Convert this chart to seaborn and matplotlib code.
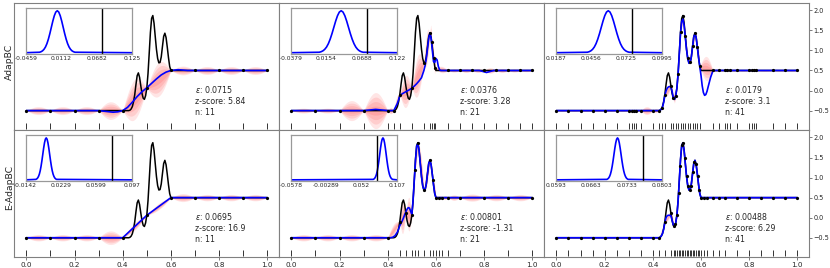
import numpy as np
import matplotlib
matplotlib.use("Agg")
import matplotlib.pyplot as plt
import seaborn as sns

# ---- true function (black line) ----
TRUE_X = [0.0, 0.425, 0.43, 0.435, 0.44, 0.445, 0.45, 0.455, 0.46, 0.465, 0.47, 0.475,
          0.48, 0.485, 0.49, 0.495, 0.5, 0.505, 0.51, 0.515, 0.52, 0.525, 0.53, 0.535,
          0.54, 0.545, 0.55, 0.555, 0.56, 0.565, 0.57, 0.575, 0.58, 0.585, 0.59, 0.595,
          0.6, 1.0]
TRUE_Y = [-0.5, -0.5, -0.49, -0.46, -0.40, -0.28, -0.10, 0.15, 0.37, 0.44, 0.33, 0.12,
          -0.07, -0.19, -0.22, -0.13, 0.06, 0.42, 0.93, 1.45, 1.80, 1.87, 1.68, 1.35,
          1.03, 0.80, 0.69, 0.70, 0.84, 1.10, 1.35, 1.43, 1.32, 1.08, 0.82, 0.60,
          0.50, 0.50]

# ---- sample locations and their values (black dots / rug) ----
S11_X = [0.0, 0.1, 0.2, 0.3, 0.4, 0.5, 0.6, 0.7, 0.8, 0.9, 1.0]
S11_Y = [-0.5, -0.5, -0.5, -0.5, -0.5, 0.06, 0.5, 0.5, 0.5, 0.5, 0.5]

TM_SX = [0.0, 0.1, 0.2, 0.3, 0.4, 0.425, 0.45, 0.5, 0.55, 0.575, 0.5825, 0.59, 0.5975,
         0.65, 0.7, 0.75, 0.8, 0.85, 0.9, 0.95, 1.0]
TM_SY = [-0.5, -0.5, -0.5, -0.5, -0.5, -0.5, -0.10, 0.06, 0.69, 1.43, 1.22, 0.82, 0.55,
         0.5, 0.5, 0.5, 0.5, 0.5, 0.5, 0.5, 0.5]

TR_SX = [0.0, 0.05, 0.1, 0.15, 0.2, 0.25, 0.3, 0.3125, 0.32, 0.33, 0.35, 0.4, 0.425,
         0.4375, 0.45, 0.475, 0.485, 0.495, 0.505, 0.515, 0.525, 0.535, 0.545, 0.555,
         0.565, 0.575, 0.585, 0.595, 0.65, 0.675, 0.7, 0.71, 0.72, 0.75, 0.8, 0.81,
         0.82, 0.83, 0.9, 0.95, 1.0]
TR_SY = [-0.5, -0.5, -0.5, -0.5, -0.5, -0.5, -0.5, -0.5, -0.5, -0.5, -0.5, -0.5, -0.5,
         -0.43, -0.10, 0.12, -0.19, -0.13, 0.42, 1.45, 1.87, 1.35, 0.80, 0.70,
         1.10, 1.43, 1.08, 0.60, 0.5, 0.5, 0.5, 0.5, 0.5, 0.5, 0.5, 0.5,
         0.5, 0.5, 0.5, 0.5, 0.5]

BM_SX = [0.0, 0.1, 0.2, 0.3, 0.4, 0.45, 0.475, 0.5, 0.5125, 0.525, 0.55, 0.575, 0.5875,
         0.6, 0.6125, 0.625, 0.65, 0.7, 0.8, 0.9, 1.0]
BM_SY = [-0.5, -0.5, -0.5, -0.5, -0.5, -0.10, 0.12, 0.06, 1.19, 1.87, 0.69, 1.43, 0.95,
         0.5, 0.5, 0.5, 0.5, 0.5, 0.5, 0.5, 0.5]

BR_SX = [0.0, 0.05, 0.1, 0.15, 0.2, 0.25, 0.3, 0.35, 0.4, 0.425, 0.45, 0.475, 0.4875,
         0.494, 0.5, 0.507, 0.5135, 0.52, 0.5265, 0.533, 0.54, 0.546, 0.553, 0.559,
         0.566, 0.5725, 0.579, 0.586, 0.5925, 0.6, 0.6125, 0.625, 0.65, 0.675, 0.7,
         0.75, 0.8, 0.85, 0.9, 0.95, 1.0]
BR_SY = [-0.5, -0.5, -0.5, -0.5, -0.5, -0.5, -0.5, -0.5, -0.5, -0.5, -0.10, 0.12, -0.21,
         -0.15, 0.06, 0.62, 1.30, 1.80, 1.85, 1.50, 1.03, 0.78, 0.69, 0.80,
         1.13, 1.40, 1.35, 1.03, 0.68, 0.5, 0.5, 0.5, 0.5, 0.5, 0.5,
         0.5, 0.5, 0.5, 0.5, 0.5, 0.5]

# ---- model mean (blue line) per panel ----
TL_MX = [0.0, 0.3, 0.33, 0.36, 0.38, 0.4, 0.42, 0.44, 0.46, 0.48, 0.5, 0.52, 0.54, 0.56,
         0.58, 0.6, 0.63, 0.67, 1.0]
TL_MY = [-0.5, -0.5, -0.52, -0.54, -0.53, -0.5, -0.42, -0.29, -0.15, -0.03, 0.07, 0.18,
         0.29, 0.39, 0.46, 0.5, 0.52, 0.5, 0.5]

TM_MX = [0.0, 0.3, 0.35, 0.4, 0.425, 0.44, 0.45, 0.46, 0.475, 0.49, 0.5, 0.51, 0.52, 0.53,
         0.54, 0.55, 0.555, 0.56, 0.565, 0.57, 0.575, 0.58, 0.585, 0.59, 0.595, 0.6,
         0.605, 0.61, 0.615, 0.62, 0.65, 0.78, 0.81, 0.84, 1.0]
TM_MY = [-0.5, -0.5, -0.47, -0.5, -0.5, -0.32, -0.14, -0.08, -0.03, 0.02, 0.06, 0.11, 0.17,
         0.24, 0.32, 0.5, 0.62, 0.8, 1.05, 1.3, 1.44, 1.3, 1.0, 0.72, 0.7, 0.8,
         0.76, 0.6, 0.52, 0.5, 0.5, 0.5, 0.45, 0.5, 0.5]

TR_MX = [0.0, 0.425, 0.43, 0.435, 0.44, 0.445, 0.45, 0.455, 0.46, 0.465, 0.47, 0.475,
         0.48, 0.485, 0.49, 0.495, 0.5, 0.505, 0.51, 0.515, 0.52, 0.525, 0.53, 0.535,
         0.54, 0.545, 0.55, 0.555, 0.56, 0.565, 0.57, 0.575, 0.58, 0.585, 0.59, 0.595,
         0.6, 0.605, 0.61, 0.615, 0.62, 0.625, 0.63, 0.64, 0.65, 1.0]
TR_MY = [-0.5, -0.5, -0.49, -0.47, -0.42, -0.30, -0.12, -0.01, 0.06, 0.09, 0.10, 0.09,
         -0.02, -0.17, -0.22, -0.14, 0.06, 0.42, 0.92, 1.42, 1.72, 1.78, 1.62, 1.33,
         1.02, 0.80, 0.68, 0.70, 0.84, 1.09, 1.33, 1.42, 1.32, 1.08, 0.82, 0.60,
         0.38, 0.12, -0.05, -0.12, -0.10, -0.02, 0.10, 0.33, 0.5, 0.5]

BL_MX = [0.0, 0.4, 0.5, 0.6, 1.0]
BL_MY = [-0.5, -0.5, 0.06, 0.5, 0.5]

BM_MX = [0.0, 0.4, 0.41, 0.42, 0.43, 0.44, 0.45, 0.455, 0.46, 0.465, 0.47, 0.475, 0.48,
         0.485, 0.49, 0.495, 0.5, 0.505, 0.51, 0.515, 0.52, 0.525, 0.53, 0.535, 0.54,
         0.545, 0.55, 0.555, 0.56, 0.565, 0.57, 0.575, 0.58, 0.585, 0.59, 0.595, 0.6, 1.0]
BM_MY = [-0.5, -0.5, -0.5, -0.49, -0.45, -0.36, -0.2, -0.14, -0.08, -0.01, 0.07, 0.14, 0.21,
         0.25, 0.24, 0.16, 0.08, 0.42, 0.92, 1.42, 1.78, 1.85, 1.68, 1.35, 1.03,
         0.80, 0.69, 0.70, 0.84, 1.10, 1.35, 1.43, 1.32, 1.08, 0.82, 0.60, 0.50, 0.5]

BR_MX = [0.0, 0.425, 0.43, 0.435, 0.44, 0.445, 0.45, 0.455, 0.46, 0.465, 0.47, 0.475,
         0.48, 0.485, 0.49, 0.495, 0.5, 0.505, 0.51, 0.515, 0.52, 0.525, 0.53, 0.535,
         0.54, 0.545, 0.55, 0.555, 0.56, 0.565, 0.57, 0.575, 0.58, 0.585, 0.59, 0.595,
         0.6, 1.0]
BR_MY = [-0.5, -0.5, -0.49, -0.46, -0.40, -0.29, -0.12, 0.0, 0.05, 0.06, 0.06, 0.05,
         -0.06, -0.18, -0.22, -0.14, 0.06, 0.42, 0.93, 1.45, 1.80, 1.86, 1.68, 1.35,
         1.03, 0.80, 0.69, 0.70, 0.84, 1.10, 1.35, 1.43, 1.32, 1.08, 0.82, 0.60,
         0.50, 0.5]

# ---- uncertainty half-width between consecutive samples ----
TL_SD = [0.1, 0.1, 0.1, 0.22, 0.5, 0.42, 0.11, 0.1, 0.1, 0.1]
BL_SD = [0.08, 0.08, 0.08, 0.17, 0.09, 0.08, 0.1, 0.08, 0.08, 0.08]
TM_SD = [0.06, 0.06, 0.25, 0.45, 0.08, 0.15, 0.4, 0.5, 0.4, 0.3, 0.3, 0.25, 0.08, 0.04,
         0.05, 0.05, 0.07, 0.05, 0.04, 0.03]
BM_SD = [0.08, 0.08, 0.08, 0.08, 0.14, 0.4, 0.42, 0.22, 0.15, 0.3, 0.25, 0.15, 0.12, 0.05,
         0.05, 0.05, 0.07, 0.09, 0.08, 0.08]
TR_SD = [0.02, 0.02, 0.02, 0.02, 0.02, 0.02, 0.0, 0.0, 0.0, 0.02, 0.1, 0.05, 0.02, 0.05,
         0.12, 0.15, 0.15, 0.1, 0.08, 0.1, 0.08, 0.08, 0.1, 0.08, 0.12, 0.15, 0.2, 0.3,
         0.02, 0.02, 0.02, 0.02, 0.02, 0.02, 0.02, 0.02, 0.02, 0.02, 0.02, 0.02]
BR_SD = [0.015, 0.015, 0.015, 0.015, 0.015, 0.015, 0.015, 0.015, 0.015, 0.015, 0.08, 0.1,
         0.03, 0.03, 0.03, 0.03, 0.03, 0.03, 0.03, 0.03, 0.03, 0.03, 0.03, 0.03, 0.03,
         0.03, 0.03, 0.03, 0.03, 0.015, 0.015, 0.015, 0.015, 0.015, 0.015, 0.015, 0.015,
         0.015, 0.015, 0.015]

# ---- annotations ----
EPS = ["0.0715", "0.0376", "0.0179", "0.0695", "0.00801", "0.00488"]
ZSCORE = ["5.84", "3.28", "3.1", "16.9", "-1.31", "6.29"]
NSAMP = [11, 21, 41, 11, 21, 41]
ROW_LABELS = ["AdapBC", "E-AdapBC"]

# ---- inset: error distribution ----
INSET_TICKS = [[-0.0459, 0.0112, 0.0682, 0.125],
               [-0.0379, 0.0154, 0.0688, 0.122],
               [0.0187, 0.0456, 0.0725, 0.0995],
               [-0.0142, 0.0229, 0.0599, 0.097],
               [-0.0578, -0.00289, 0.052, 0.107],
               [0.0593, 0.0663, 0.0733, 0.0803]]
INSET_TICKLABELS = [["-0.0459", "0.0112", "0.0682", "0.125"],
                    ["-0.0379", "0.0154", "0.0688", "0.122"],
                    ["0.0187", "0.0456", "0.0725", "0.0995"],
                    ["-0.0142", "0.0229", "0.0599", "0.097"],
                    ["-0.0578", "-0.00289", "0.052", "0.107"],
                    ["0.0593", "0.0663", "0.0733", "0.0803"]]
BELL_MU = [0.0049, 0.038, 0.0586, 0.0073, 0.0852, 0.0715]
BELL_SD = [0.0095, 0.011, 0.0053, 0.0036, 0.005, 0.0007]
THRESH = 0.0765
BELL_K = [-3, -2.75, -2.5, -2.25, -2, -1.75, -1.5, -1.25, -1, -0.75, -0.5, -0.25, 0,
          0.25, 0.5, 0.75, 1, 1.25, 1.5, 1.75, 2, 2.25, 2.5, 2.75, 3]
BELL_H = [0.011, 0.023, 0.044, 0.080, 0.135, 0.216, 0.325, 0.458, 0.607, 0.755, 0.882,
          0.969, 1.0, 0.969, 0.882, 0.755, 0.607, 0.458, 0.325, 0.216, 0.135, 0.080,
          0.044, 0.023, 0.011]

panels = [
    (S11_X, S11_Y, TL_MX, TL_MY, TL_SD),
    (TM_SX, TM_SY, TM_MX, TM_MY, TM_SD),
    (TR_SX, TR_SY, TR_MX, TR_MY, TR_SD),
    (S11_X, S11_Y, BL_MX, BL_MY, BL_SD),
    (BM_SX, BM_SY, BM_MX, BM_MY, BM_SD),
    (BR_SX, BR_SY, BR_MX, BR_MY, BR_SD),
]

sns.set_style("white")
plt.rcParams["font.family"] = ["DejaVu Sans"]

fig, axes = plt.subplots(2, 3, figsize=(8.3, 2.68), dpi=100, sharex=True, sharey=True)
fig.subplots_adjust(left=0.0172, right=0.9752, top=0.9884, bottom=0.0396,
                    wspace=0, hspace=0)

lens_t = np.linspace(0, 1, 25)
lens_shape = np.sin(np.pi * lens_t)

for i, ax in enumerate(axes.flat):
    sx, sy, mx, my, sd = panels[i]
    row, col = divmod(i, 3)

    # pink uncertainty lenses between samples
    for j in range(len(sx) - 1):
        if sd[j] <= 0:
            continue
        xs = sx[j] + (sx[j + 1] - sx[j]) * lens_t
        cs = sy[j] + (sy[j + 1] - sy[j]) * lens_t
        for f in (1.0, 0.75, 0.5, 0.25):
            h = f * sd[j] * lens_shape
            ax.fill_between(xs, cs - h, cs + h, color="red", alpha=0.1, lw=0, zorder=1)

    sns.lineplot(x=TRUE_X, y=TRUE_Y, ax=ax, color="black", lw=1.1, zorder=3)
    sns.lineplot(x=mx, y=my, ax=ax, color="blue", lw=1.2, zorder=4)
    ax.plot(sx, sy, ls="none", marker="o", ms=1.3, color="black", zorder=5)
    ax.plot(sx, [-0.885] * len(sx), ls="none", marker="|", ms=4, mew=0.7,
            color="0.2", zorder=2)

    ax.text(0.70, 0.17, "$\\varepsilon$: " + EPS[i] + "\nz-score: " + ZSCORE[i] +
            "\nn: " + str(NSAMP[i]), fontsize=5.7, va="top", ha="left", linespacing=1.3)

    ax.set_xlim(-0.05, 1.05)
    ax.set_ylim(-0.99, 2.18)
    ax.set_xlabel("")
    ax.set_ylabel("")
    for sp in ax.spines.values():
        sp.set_color("0.5")
        sp.set_linewidth(0.8)
    ax.tick_params(left=False, labelleft=False, right=(col == 2), labelright=(col == 2),
                   bottom=(row == 1), labelbottom=(row == 1), top=False,
                   length=2, width=0.6, color="0.4", pad=1)
    ax.tick_params(axis="y", labelsize=4.7)
    ax.tick_params(axis="x", labelsize=5.2, pad=1.5)
    ax.set_yticks([-0.5, 0.0, 0.5, 1.0, 1.5, 2.0])
    ax.set_xticks([0.0, 0.2, 0.4, 0.6, 0.8, 1.0])

    # inset with error distribution
    ins = ax.inset_axes([0.043, 0.60, 0.401, 0.363])
    lo, hi = INSET_TICKS[i][0], INSET_TICKS[i][-1]
    bx = [lo] + [BELL_MU[i] + k * BELL_SD[i] for k in BELL_K] + [hi]
    by = [0.0] + BELL_H + [0.0]
    ins.plot(bx, by, color="blue", lw=1.2)
    ins.axvline(THRESH, color="black", lw=1.0)
    ins.set_xlim(lo, hi)
    ins.set_ylim(-0.03, 1.07)
    ins.set_xticks(INSET_TICKS[i])
    ins.set_xticklabels(INSET_TICKLABELS[i])
    ins.set_yticks([])
    ins.tick_params(axis="x", labelsize=4.3, length=0, pad=1.5)
    ins.set_facecolor("white")
    for sp in ins.spines.values():
        sp.set_color("0.6")
        sp.set_linewidth(0.9)

fig.text(9.5 / 830, 1 - 62 / 268, ROW_LABELS[0], rotation=90, ha="center", va="center",
         fontsize=6.7)
fig.text(9.5 / 830, 1 - 187 / 268, ROW_LABELS[1], rotation=90, ha="center", va="center",
         fontsize=6.7)

fig.savefig("out.png", dpi=100)
